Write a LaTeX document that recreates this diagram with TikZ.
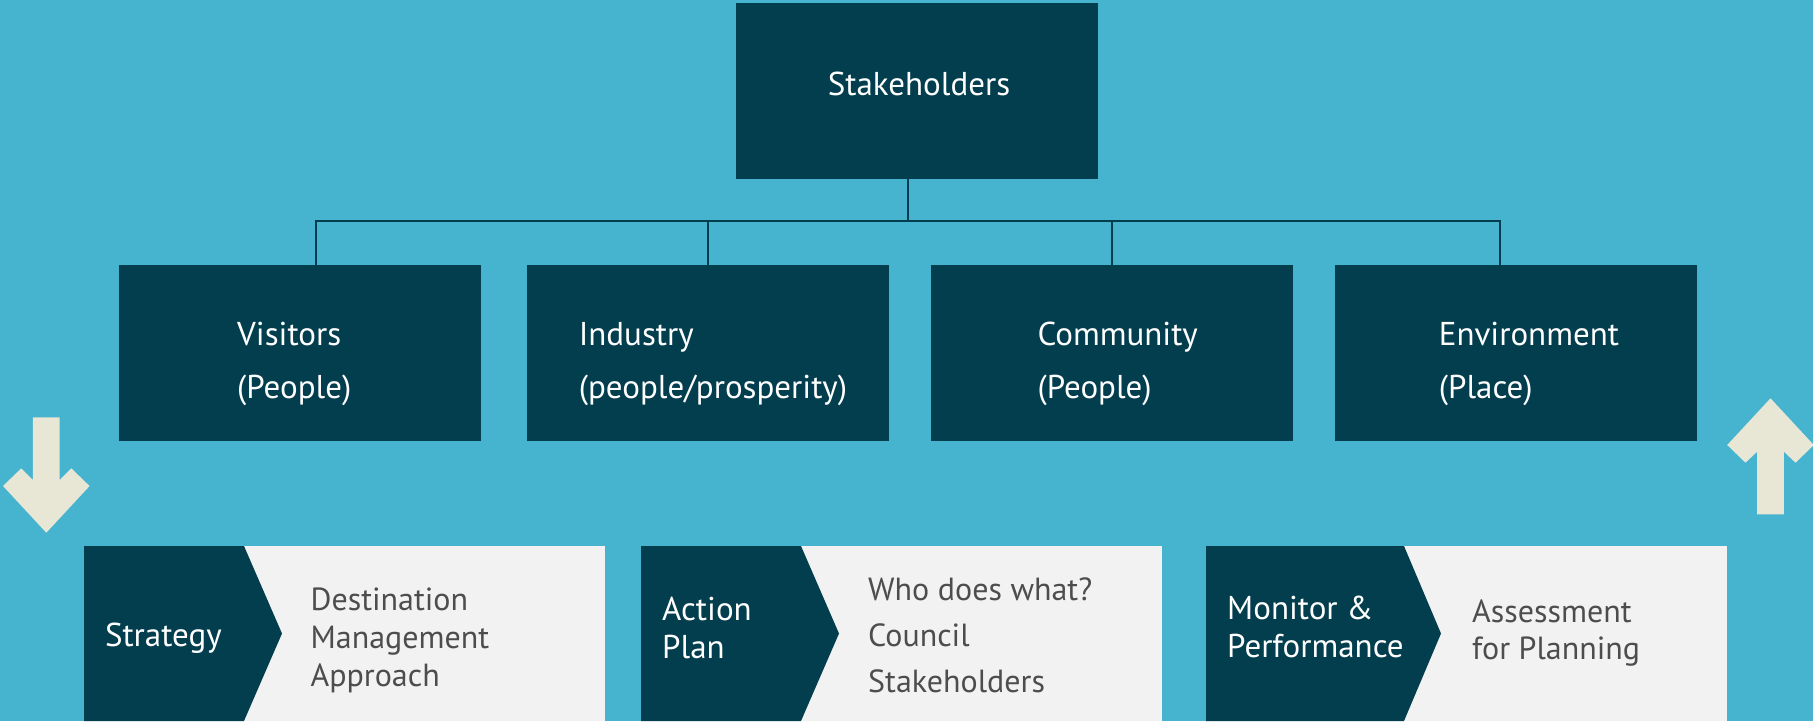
\documentclass[tikz,border=0pt]{standalone}
\usepackage{fontspec}
\setmainfont{PT Sans}
\definecolor{bg}{HTML}{46B3CF}
\definecolor{dark}{HTML}{033E4F}
\definecolor{panel}{HTML}{F2F2F2}
\definecolor{graytxt}{HTML}{4D4D4D}
\definecolor{cream}{HTML}{E8E6D5}
\begin{document}
\begin{tikzpicture}[x=1pt,y=-1pt,
  box/.style={fill=dark, draw=none, inner sep=0pt, anchor=north west, minimum width=362pt, minimum height=176pt},
  wtext/.style={text=white, font=\fontsize{33}{53}\selectfont, align=left, anchor=base west, inner sep=0pt},
  ptext/.style={text=white, font=\fontsize{33}{37.5}\selectfont, align=left, anchor=base west, inner sep=0pt},
  gtext/.style={text=graytxt, font=\fontsize{32}{38}\selectfont, align=left, anchor=base west, inner sep=0pt},
  conn/.style={draw=dark, line width=2pt},
  bigarrow/.style={fill=cream}]
\useasboundingbox (0,0) rectangle (1813,721);
\fill[bg] (0,0) rectangle (1813,721);

% top box
\node[box] (stake) at (736,3) {};
\node[wtext, anchor=base] (stxt) at (919,95.7) {Stakeholders};

% second row
\node[box, minimum width=361.5pt] (vis) at (119,265) {};
\node[box, minimum width=361.5pt] (ind) at (527,265) {};
\node[box] (com) at (931,265) {};
\node[box] (env) at (1335,265) {};
\node[wtext] (vistxt) at (237,398) {Visitors\\(People)};
\node[wtext] (indtxt) at (578.6,398) {Industry\\(people/prosperity)};
\node[wtext] (comtxt) at (1037.4,398) {Community\\(People)};
\node[wtext] (envtxt) at (1438.6,398) {Environment\\(Place)};

% connectors
\coordinate (busL) at (315.7,220.7);
\coordinate (busR) at (1499.7,220.7);
\coordinate (stk) at (908,179);
\draw[conn] (stk) -- (stk |- busL);
\draw[conn] (busL |- vis.north) -- (busL) -- (busR) -- (busR |- env.north);
\draw[conn] (ind.north |- busL) -- (ind.north);
\draw[conn] (com.north |- busL) -- (com.north);

% arrows
\fill[bigarrow, shift={(46.3,532.7)}]
  (0,0) -- (43.3,-46.7) -- (25,-64.4) -- (13.4,-52.7) -- (13.4,-115.4)
  -- (-13.4,-115.4) -- (-13.4,-52.7) -- (-25,-64.4) -- (-43.3,-46.7) -- cycle;
\fill[bigarrow, shift={(1770.5,398.3)}]
  (0,0) -- (43.3,46.7) -- (25,64.4) -- (13.4,53.4) -- (13.4,116)
  -- (-13.4,116) -- (-13.4,53.4) -- (-25,64.4) -- (-43.3,46.7) -- cycle;

% lower panels
\fill[panel] (84,546) rectangle (605,721);
\fill[dark] (84,546) -- (244,546) -- (282,633.5) -- (244,721) -- (84,721) -- cycle;
\fill[panel] (641,546) rectangle (1161.5,721);
\fill[dark] (641,546) -- (801,546) -- (839,633.5) -- (801,721) -- (641,721) -- cycle;
\fill[panel] (1206,546) rectangle (1726.5,721);
\fill[dark] (1206,546) -- (1404,546) -- (1441,633.5) -- (1404,721) -- (1206,721) -- cycle;

\node[ptext] (strat) at (104.8,646) {Strategy};
\node[gtext] (dest) at (310.4,686) {Destination\\Management\\Approach};
\node[ptext] (act) at (662,658.3) {Action\\Plan};
\node[gtext, font=\fontsize{32}{46}\selectfont] (who) at (868,692.7) {Who does what?\\Council\\Stakeholders};
\node[ptext] (mon) at (1227,657.3) {Monitor \&\\Performance};
\node[gtext, font=\fontsize{32}{36.6}\selectfont] (ass) at (1472,659.3) {Assessment\\for Planning};
\end{tikzpicture}
\end{document}
